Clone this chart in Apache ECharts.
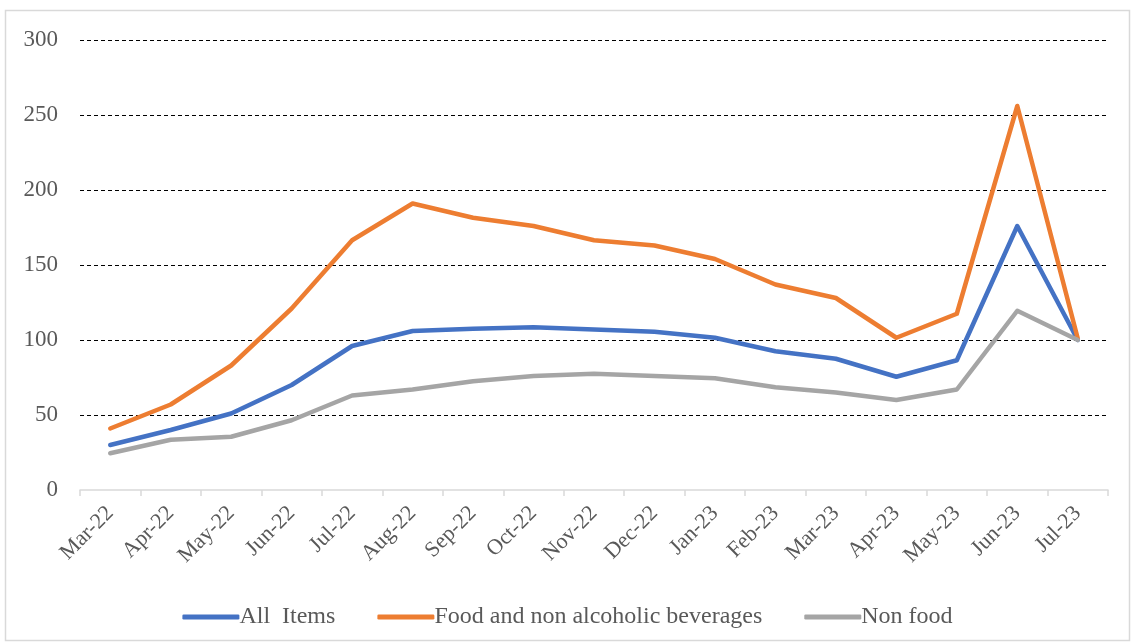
<!DOCTYPE html>
<html>
<head>
<meta charset="utf-8">
<script src="https://cdn.jsdelivr.net/npm/echarts@6/dist/echarts.min.js"></script>
<style>
  html, body { margin: 0; padding: 0; background: #fff; }
  #chart { width: 1135px; height: 643px; }
</style>
</head>
<body>
<div id="chart"></div>
<script>
// Monthly index values, Mar-22 to Jul-23
const months = ['Mar-22','Apr-22','May-22','Jun-22','Jul-22','Aug-22','Sep-22','Oct-22','Nov-22','Dec-22',
                'Jan-23','Feb-23','Mar-23','Apr-23','May-23','Jun-23','Jul-23'];
const allItems = [30, 40, 51, 70, 96, 106, 107.5, 108.5, 107, 105.5, 101.5, 92.5, 87.5, 75.5, 86.5, 176, 100];
const foodBeverages = [41, 57, 83, 121, 166.5, 191, 181.5, 176, 166.5, 163, 154, 137, 128, 101.5, 117.5, 256, 101];
const nonFood = [24.5, 33.5, 35.5, 46.5, 63, 67, 72.5, 76, 77.5, 76, 74.5, 68.5, 65, 60, 67, 119.5, 100];
const yTicks = [0, 50, 100, 150, 200, 250, 300];

const font = '"Liberation Serif", "Times New Roman", serif';
const textColor = '#595959';

function lineSeries(name, data, color) {
  return {
    name: name,
    type: 'line',
    data: data,
    symbol: 'none',
    smooth: false,
    lineStyle: { color: color, width: 4.5, cap: 'round', join: 'round' },
    itemStyle: { color: color }
  };
}

const chart = echarts.init(document.getElementById('chart'), null, { renderer: 'canvas' });
chart.setOption({
  animation: false,
  backgroundColor: '#ffffff',
  graphic: [{
    type: 'rect',
    shape: { x: 5.5, y: 10.5, width: 1124, height: 630 },
    style: { fill: 'none', stroke: '#d9d9d9', lineWidth: 1.5 },
    silent: true,
    z: -1
  }],
  grid: { left: 80, right: 27, top: 40, bottom: 153, containLabel: false },
  legend: {
    top: 600,
    left: 'center',
    icon: 'roundRect',
    itemWidth: 57,
    itemHeight: 5,
    itemGap: 42,
    textStyle: { fontFamily: font, fontSize: 24, color: textColor, padding: [0, 0, 0, -5] },
    data: ['All  Items', 'Food and non alcoholic beverages', 'Non food']
  },
  xAxis: {
    type: 'category',
    data: months,
    boundaryGap: true,
    axisLine: { show: true, lineStyle: { color: '#d9d9d9', width: 1.5 } },
    axisTick: { show: true, alignWithLabel: false, length: 6, lineStyle: { color: '#d9d9d9', width: 1.5 } },
    axisLabel: { rotate: 45, margin: 20, fontFamily: font, fontSize: 22, color: textColor, interval: 0 },
    splitLine: { show: false }
  },
  yAxis: {
    type: 'value',
    min: yTicks[0],
    max: yTicks[yTicks.length - 1],
    interval: 50,
    axisLine: { show: false },
    axisTick: { show: false },
    axisLabel: { margin: 22, fontFamily: font, fontSize: 23, color: textColor },
    splitLine: {
      show: true,
      lineStyle: { color: '#000000', width: 1, type: [4, 3] },
      showMinLine: false
    }
  },
  series: [
    lineSeries('All  Items', allItems, '#4472C4'),
    lineSeries('Food and non alcoholic beverages', foodBeverages, '#ED7D31'),
    lineSeries('Non food', nonFood, '#A5A5A5')
  ]
});
</script>
</body>
</html>
